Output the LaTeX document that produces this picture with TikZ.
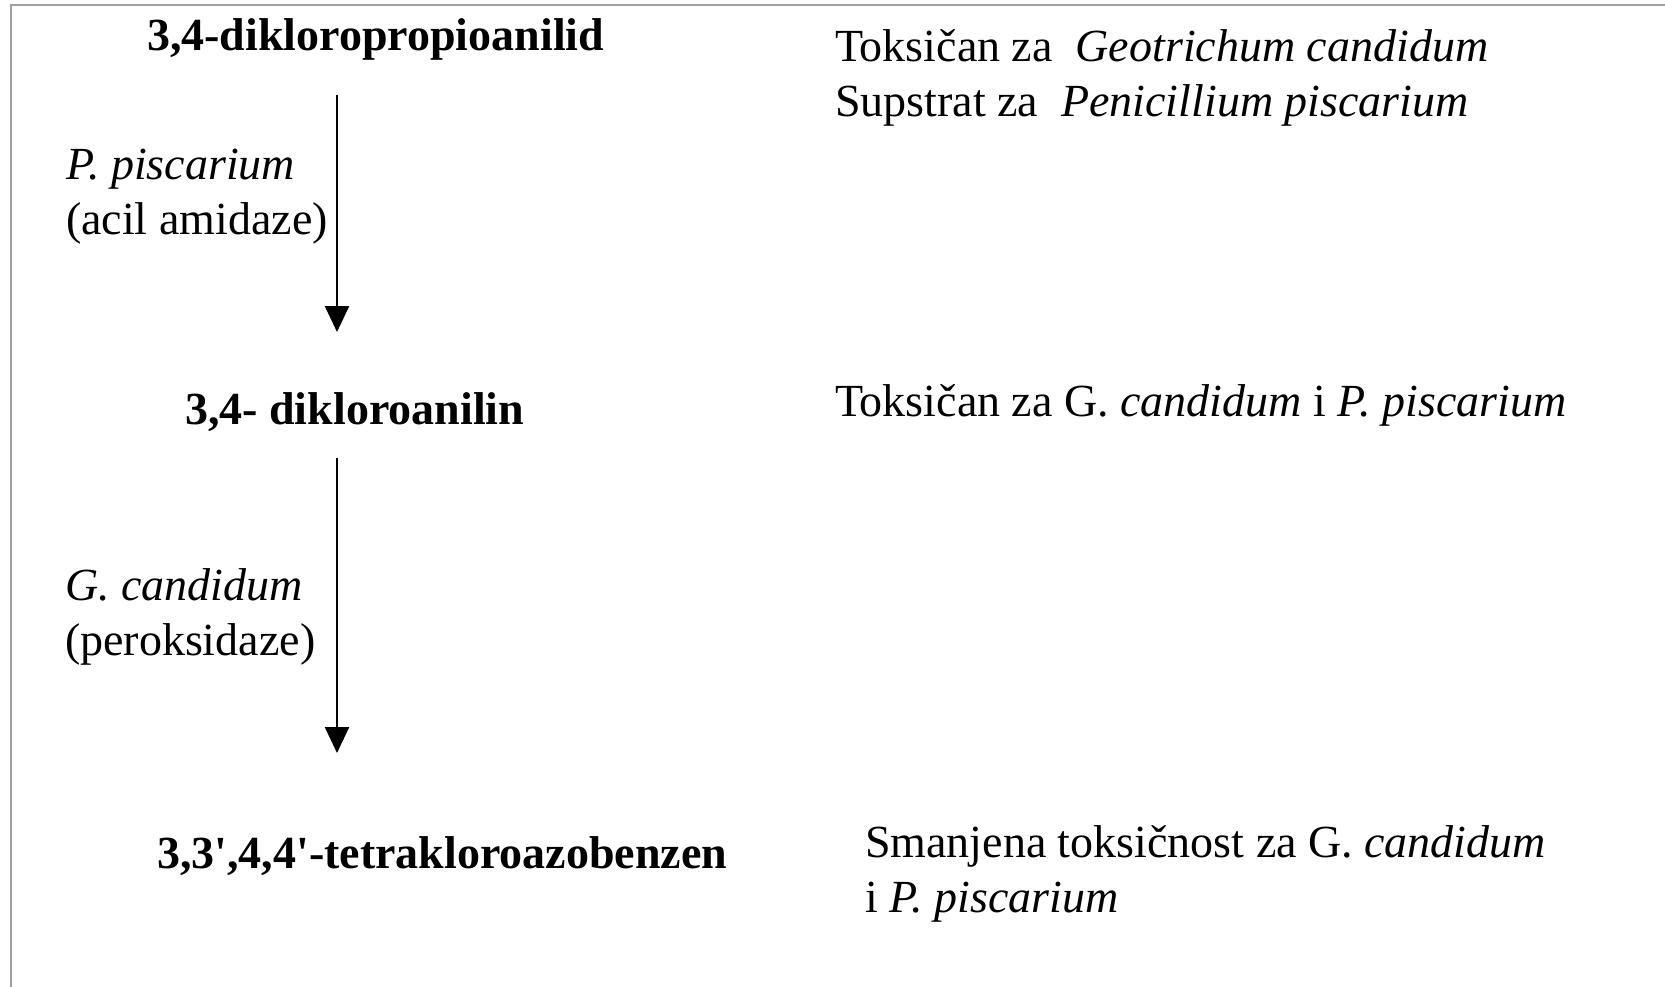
\documentclass[tikz,border=0pt]{standalone}
\usepackage{fontspec}
\setmainfont{Liberation Serif}
\usepackage{tikz}
\usetikzlibrary{arrows.meta}

\definecolor{framegray}{HTML}{A0A0A0}

\begin{document}
\begin{tikzpicture}[
      x=1pt, y=-1pt,
      every node/.style={inner sep=0pt, outer sep=0pt},
      txt/.style={
          anchor=base west, align=left, % base = last line
          font=\fontsize{46}{55}\selectfont
        },
      compound/.style={txt, font=\fontsize{46}{55}\selectfont\bfseries},
      flow/.style={draw, -{Triangle[width=24pt,length=26pt]}, line width=2.5pt},
    ]
    \useasboundingbox (0,0) rectangle (1665,987);
    \draw[framegray, line width=2pt] (11,987) -- (11,5) -- (1665,5);

    % compounds
    \node[compound] (propanil) at (147,51) {3,4-dikloropropioanilid};
    \node[compound] (dca) at (185,424) {3,4- dikloroanilin};
    \node[compound] (tcab) at (157,868) {3,3\textquotesingle,4,4\textquotesingle-tetrakloroazobenzen};

    % enzymes
    \node[txt] (enzA) at (66,235) {\textit{P. piscarium}\\(acil amidaze)};
    \node[txt] (enzB) at (65,655) {\textit{G. candidum}\\(peroksidaze)};

    % notes on toxicity
    \node[txt] (noteA) at (835,117) {Toksičan za~ \textit{Geotrichum candidum}\\Supstrat za~ \textit{Penicillium piscarium}};
    \node[txt] (noteB) at (835,416) {Toksičan za G. \textit{candidum} i \textit{P. piscarium}};
    \node[txt] (noteC) at (865,912) {Smanjena toksičnost za G. \textit{candidum}\\i \textit{P. piscarium}};

    \coordinate (a1top) at (337,95);
    \coordinate (a1tip) at (337,332);
    \coordinate (a2top) at (337,458);
    \coordinate (a2tip) at (337,753);
    \draw[flow] (a1top) -- (a1tip);
    \draw[flow] (a2top) -- (a2tip);
  \end{tikzpicture}
\end{document}
